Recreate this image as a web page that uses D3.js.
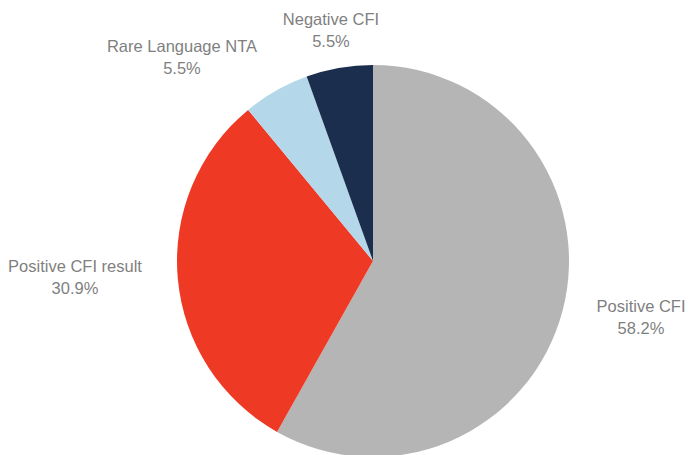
<!DOCTYPE html>
<html>
<head>
<meta charset="utf-8">
<script src="https://cdn.jsdelivr.net/npm/d3@7"></script>
<style>
  html, body { margin: 0; padding: 0; background: #ffffff; }
  svg { display: block; }
</style>
</head>
<body>
<div id="chart"></div>
<script>
// Share of outcomes, clockwise from 12 o'clock
const categories = ["Positive CFI", "Positive CFI result", "Rare Language NTA", "Negative CFI"];
const shares = [58.2, 30.9, 5.5, 5.5];
const sliceColors = ["#b4b5b4", "#ee3a25", "#b5d7ea", "#1c2e4e"];

// Label placement (centre x, first baseline y) for each category
const labelSpots = [[641, 312], [75, 272], [182, 52], [331, 25]];

const width = 688, height = 455;
const cx = 373, cy = 261, radius = 196;

const svg = d3.select("#chart").append("svg")
  .attr("width", width)
  .attr("height", height);

const pie = d3.pie().sort(null).value(d => d.value);
const arc = d3.arc().innerRadius(0).outerRadius(radius);

const data = categories.map((c, i) => ({ name: c, value: shares[i], color: sliceColors[i] }));

const g = svg.append("g").attr("transform", `translate(${cx},${cy})`);

g.selectAll("path")
  .data(pie(data))
  .join("path")
  .attr("d", arc)
  .attr("fill", d => d.data.color);

const labels = svg.append("g")
  .attr("font-family", "'Liberation Sans', Arial, sans-serif")
  .attr("font-size", "16.5px")
  .attr("fill", "#7f7f7f")
  .attr("text-anchor", "middle");

const fmt = d3.format(".1f");

data.forEach((d, i) => {
  const [lx, ly] = labelSpots[i];
  const t = labels.append("text").attr("x", lx).attr("y", ly);
  t.append("tspan").attr("x", lx).text(d.name);
  t.append("tspan").attr("x", lx).attr("dy", 22).text(fmt(d.value) + "%");
});
</script>
</body>
</html>
